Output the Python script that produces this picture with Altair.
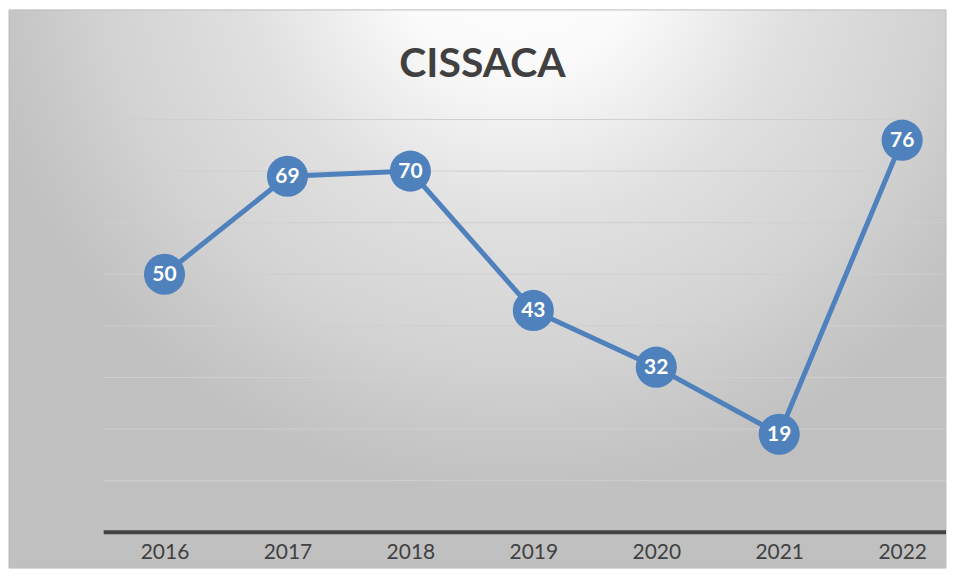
import altair as alt
import pandas as pd

years = ["2016", "2017", "2018", "2019", "2020", "2021", "2022"]
values = [50, 69, 70, 43, 32, 19, 76]
grid_values = [10, 20, 30, 40, 50, 60, 70, 80]
baseline_values = [0]
title_text = "CISSACA"

W, H = 845, 414
BLUE = "#4f81bd"
TEXT = "#404040"
FONT = "Lato"

df = pd.DataFrame({"year": years, "value": values})

yscale = alt.Scale(domain=[0, 80], nice=False, zero=True)
xenc = alt.X(
    "year:O",
    sort=None,
    scale=alt.Scale(type="point", range=[61, 801], padding=0),
    axis=alt.Axis(
        title=None, labelAngle=0, ticks=False, grid=False, domain=False,
        labelColor=TEXT, labelFont=FONT, labelFontSize=21, labelPadding=9,
        zindex=1,
    ),
)
yenc = alt.Y("value:Q", scale=yscale, axis=None)

bg = alt.Chart(alt.Data(values=[{}])).mark_rect(
    fill=alt.RadialGradient(
        gradient="radial",
        x1=0.545, y1=0.130, r1=0,
        x2=0.545, y2=0.130, r2=0.596,
        stops=[
            alt.GradientStop(offset=0, color="#ffffff"),
            alt.GradientStop(offset=0.23, color="#fafafa"),
            alt.GradientStop(offset=0.5, color="#e0e0e0"),
            alt.GradientStop(offset=0.76, color="#d2d2d2"),
            alt.GradientStop(offset=0.88, color="#c8c8c8"),
            alt.GradientStop(offset=1, color="#c0c0c0"),
        ],
    ),
    stroke="#bdbdbd", strokeWidth=1,
).encode(x=alt.value(-95), x2=alt.value(W), y=alt.value(-110), y2=alt.value(450))

grid = alt.Chart(pd.DataFrame({"g": grid_values})).mark_rule(
    color="#cfcfcf", strokeWidth=1
).encode(y=alt.Y("g:Q", scale=yscale, axis=None), x=alt.value(0), x2=alt.value(W))

baseline = alt.Chart(pd.DataFrame({"b": baseline_values})).mark_rule(
    color="#444444", strokeWidth=4
).encode(y=alt.Y("b:Q", scale=yscale, axis=None), x=alt.value(0), x2=alt.value(W))

base = alt.Chart(df).encode(x=xenc, y=yenc)
line = base.mark_line(color=BLUE, strokeWidth=5)
points = base.mark_circle(size=1700, color=BLUE, opacity=1)
labels = base.mark_text(
    color="white", font=FONT, fontWeight="bold", fontSize=21, baseline="middle", dy=1
).encode(text="value:Q")

title = alt.Chart(alt.Data(values=[{"t": title_text}])).mark_text(
    font=FONT, fontWeight="bold", fontSize=41, color=TEXT, align="center", baseline="middle"
).encode(text="t:N", x=alt.value(380), y=alt.value(-55))

chart = alt.layer(bg, grid, baseline, line, points, labels, title).properties(
    width=W, height=H, padding=0
).configure_view(stroke=None)

chart.save("out.html", embed_options={"renderer": "svg", "actions": False})
